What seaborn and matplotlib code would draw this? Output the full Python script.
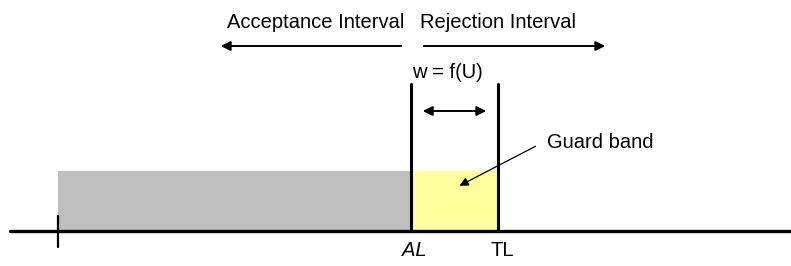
import matplotlib.pyplot as plt
import seaborn as sns
import pandas as pd

# diagram positions, in pixel units of the original picture
limit_names = ['start', 'AL', 'TL']
limit_x = [58, 411, 498]
band_names = ['Acceptance', 'Guard band']
band_left = [58, 411]
band_right = [411, 498]
band_top = [171, 171]
band_colors = ['#bfbfbf', '#ffff9e']
axis_y = 231
limit_top = 84
interval_labels = ['Acceptance Interval', 'Rejection Interval']

sns.set_theme(style='white')
plt.rcParams['font.family'] = ['Liberation Sans', 'DejaVu Sans']
plt.rcParams['text.color'] = 'black'

fig = plt.figure(figsize=(7.91, 2.66), dpi=100)
ax = fig.add_axes([0, 0, 1, 1])
ax.set_xlim(0, 791)
ax.set_ylim(266, 0)
ax.axis('off')

# shaded bands
bands = pd.DataFrame({'name': band_names, 'left': band_left, 'right': band_right,
                      'top': band_top, 'color': band_colors})
for _, b in bands.iterrows():
    ax.fill_between([b['left'], b['right']], b['top'], axis_y, color=b['color'], lw=0, zorder=1)

# baseline and start tick
ax.plot([10, 791], [axis_y, axis_y], color='black', lw=2.4, zorder=3)
ax.plot([limit_x[0], limit_x[0]], [216, 247], color='black', lw=1.6, zorder=3)

# AL and TL vertical lines
for x in limit_x[1:]:
    ax.plot([x, x], [limit_top, axis_y], color='black', lw=2.2, zorder=3)

fs = 14.5
ax.text(limit_x[1] + 3, 250, 'AL', fontsize=fs, style='italic', ha='center', va='center')
ax.text(limit_x[2] + 4, 250, 'TL', fontsize=fs, ha='center', va='center')

# interval labels and arrows
ax.text(404, 22, interval_labels[0], fontsize=fs, ha='right', va='center')
ax.text(420, 22, interval_labels[1], fontsize=fs, ha='left', va='center')
arrow = dict(arrowstyle='-|>', color='black', lw=1.4, mutation_scale=14)
ax.annotate('', xy=(218, 46), xytext=(404, 46), arrowprops=arrow)
ax.annotate('', xy=(608, 46), xytext=(421, 46), arrowprops=arrow)

# guard band width
ax.text(412, 72, 'w = f(U)', fontsize=fs, ha='left', va='center')
ax.annotate('', xy=(420, 111), xytext=(489, 111),
            arrowprops=dict(arrowstyle='<|-|>', color='black', lw=1.4, mutation_scale=14))

# guard band label
ax.text(547, 142, 'Guard band', fontsize=fs, ha='left', va='center')
ax.annotate('', xy=(457, 187), xytext=(538, 145),
            arrowprops=dict(arrowstyle='-|>', color='black', lw=0.9, mutation_scale=13))

fig.savefig('out.png', dpi=100)
